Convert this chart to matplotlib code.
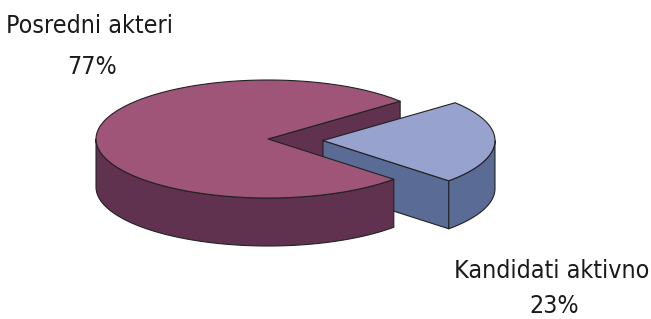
import numpy as np
import matplotlib.pyplot as plt
from matplotlib.patches import Polygon
from matplotlib import font_manager as fm

labels = ["Posredni akteri", "Kandidati aktivno"]
shares = [77, 23]
top_colors = ["#9e5577", "#98a2cf"]
side_colors = ["#613150", "#5a6b95"]

# pixel geometry of the tilted pie
cx, cy = 268, 139
a, b, depth = 172, 59, 48
start = 39.8
explode = [0, 55]
edge = dict(edgecolor="#222222", linewidth=0.8, joinstyle="round")

fig = plt.figure(figsize=(6.51, 3.19), dpi=100)
ax = fig.add_axes([0, 0, 1, 1])
ax.set_xlim(0, 651)
ax.set_ylim(319, 0)
ax.axis("off")

# slice angle ranges (degrees, counter-clockwise)
spans = []
t = start
for s in shares:
    w = 360 * s / sum(shares)
    spans.append((t, t + w))
    t += w


def pt(th, ox, oy, dz=0):
    r = np.radians(th)
    return ox + a * np.cos(r), oy - b * np.sin(r) + dz


def arc(t0, t1, ox, oy, dz=0, n=120):
    th = np.linspace(t0, t1, n)
    r = np.radians(th)
    return np.column_stack([ox + a * np.cos(r), oy - b * np.sin(r) + dz])


centers = []
for (t0, t1), e in zip(spans, explode):
    mid = np.radians((t0 + t1) / 2)
    centers.append((cx + e * np.cos(mid), cy - e * np.sin(mid)))

(b0, b1), (s0, s1) = spans
(bx, by), (sx, sy) = centers

# big slice: visible cut face at its start angle
p = pt(b0, bx, by)
ax.add_patch(Polygon([(bx, by), p, (p[0], p[1] + depth), (bx, by + depth)],
                     facecolor=side_colors[0], **edge))

# small slice: visible cut face at its start angle
p = pt(s0, sx, sy)
ax.add_patch(Polygon([(sx, sy), p, (p[0], p[1] + depth), (sx, sy + depth)],
                     facecolor=side_colors[1], **edge))

# big slice: front curved side
lo, hi = max(b0, 180), min(b1, 360)
up = arc(lo, hi, bx, by)
down = arc(hi, lo, bx, by, depth)
ax.add_patch(Polygon(np.vstack([up, down]), facecolor=side_colors[0], **edge))

# big slice: top face
ax.add_patch(Polygon(np.vstack([[bx, by], arc(b0, b1, bx, by)]),
                     facecolor=top_colors[0], **edge))

# small slice: front curved side (angles below 0)
lo, hi = s0 - 360, 0
up = arc(lo, hi, sx, sy)
down = arc(hi, lo, sx, sy, depth)
ax.add_patch(Polygon(np.vstack([up, down]), facecolor=side_colors[1], **edge))

# small slice: top face
ax.add_patch(Polygon(np.vstack([[sx, sy], arc(s0 - 360, s1 - 360, sx, sy)]),
                     facecolor=top_colors[1], **edge))

# narrow font if one is installed, else Roboto
narrow = [f for f in fm.fontManager.ttflist
          if ("Condensed" in f.fname or "Narrow" in f.fname)
          and f.style == "normal" and f.weight in (400, "normal", "regular")]
if narrow:
    fprop = fm.FontProperties(fname=narrow[0].fname)
else:
    fprop = fm.FontProperties(family="Roboto")

# size the text so the long label spans about 195 px, as in the picture
renderer = fig.canvas.get_renderer()
probe = ax.text(0, 0, labels[1], fontproperties=fprop, fontsize=20)
w = probe.get_window_extent(renderer).width
probe.remove()
size = min(20, 20 * 195 / w)

font = dict(fontproperties=fprop, fontsize=size, color="#1a1a1a",
            ha="center", va="baseline")
label_pos = [(90, 33, 92, 74), (552, 278, 554, 313)]
for lab, s, (lx, ly, px, py) in zip(labels, shares, label_pos):
    t1 = ax.text(lx, ly, lab, **font)
    t1.set_fontsize(size)
    t2 = ax.text(px, py, f"{s}%", **font)
    t2.set_fontsize(size)

fig.savefig("out.png", dpi=100)
